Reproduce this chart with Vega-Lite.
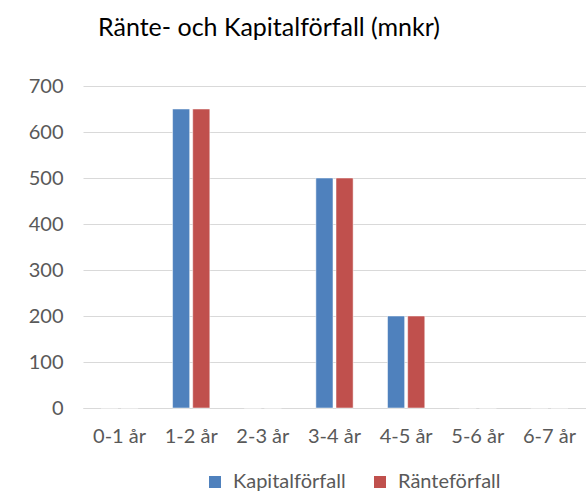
{
  "$schema": "https://vega.github.io/schema/vega-lite/v6.json",
  "autosize": "none",
  "width": 503,
  "height": 322,
  "padding": {"left": 83, "top": 86, "right": 0, "bottom": 84},
  "background": "white",
  "title": {
    "text": "Ränte- och Kapitalförfall (mnkr)",
    "anchor": "start",
    "frame": "group",
    "dx": 15,
    "offset": 35,
    "font": "Lato",
    "fontSize": 25,
    "fontWeight": "normal",
    "color": "#000000"
  },
  "data": {
    "values": [
      {"period": "0-1 år", "serie": "Kapitalförfall", "mnkr": 0},
      {"period": "0-1 år", "serie": "Ränteförfall", "mnkr": 0},
      {"period": "1-2 år", "serie": "Kapitalförfall", "mnkr": 650},
      {"period": "1-2 år", "serie": "Ränteförfall", "mnkr": 650},
      {"period": "2-3 år", "serie": "Kapitalförfall", "mnkr": 0},
      {"period": "2-3 år", "serie": "Ränteförfall", "mnkr": 0},
      {"period": "3-4 år", "serie": "Kapitalförfall", "mnkr": 500},
      {"period": "3-4 år", "serie": "Ränteförfall", "mnkr": 500},
      {"period": "4-5 år", "serie": "Kapitalförfall", "mnkr": 200},
      {"period": "4-5 år", "serie": "Ränteförfall", "mnkr": 200},
      {"period": "5-6 år", "serie": "Kapitalförfall", "mnkr": 0},
      {"period": "5-6 år", "serie": "Ränteförfall", "mnkr": 0},
      {"period": "6-7 år", "serie": "Kapitalförfall", "mnkr": 0},
      {"period": "6-7 år", "serie": "Ränteförfall", "mnkr": 0}
    ]
  },
  "mark": {"type": "bar", "stroke": "white", "strokeWidth": 0.5},
  "encoding": {
    "x": {
      "field": "period",
      "type": "nominal",
      "sort": null,
      "scale": {"paddingInner": 0.48, "paddingOuter": 0.25},
      "axis": {
        "title": null,
        "labelAngle": 0,
        "ticks": false,
        "domainColor": "#d9d9d9",
        "labelFont": "Lato",
        "labelFontSize": 20,
        "labelColor": "#595959",
        "labelPadding": 18
      }
    },
    "xOffset": {"field": "serie", "type": "nominal", "scale": {"paddingInner": 0.15}},
    "y": {
      "field": "mnkr",
      "type": "quantitative",
      "scale": {"domain": [0, 700]},
      "axis": {
        "title": null,
        "values": [0, 100, 200, 300, 400, 500, 600, 700],
        "ticks": false,
        "domain": false,
        "gridColor": "#d9d9d9",
        "labelFont": "Lato",
        "labelFontSize": 20,
        "labelColor": "#595959",
        "labelPadding": 20
      }
    },
    "color": {
      "field": "serie",
      "type": "nominal",
      "scale": {"domain": ["Kapitalförfall", "Ränteförfall"], "range": ["#4F81BD", "#C0504D"]},
      "legend": {
        "title": null,
        "orient": "none",
        "legendX": 122,
        "legendY": 386,
        "direction": "horizontal",
        "symbolType": "square",
        "symbolSize": 144,
        "symbolStrokeWidth": 0,
        "labelFont": "Lato",
        "labelFontSize": 20,
        "labelColor": "#595959",
        "labelOffset": 8,
        "columnPadding": 24
      }
    }
  },
  "config": {"view": {"stroke": null}}
}
